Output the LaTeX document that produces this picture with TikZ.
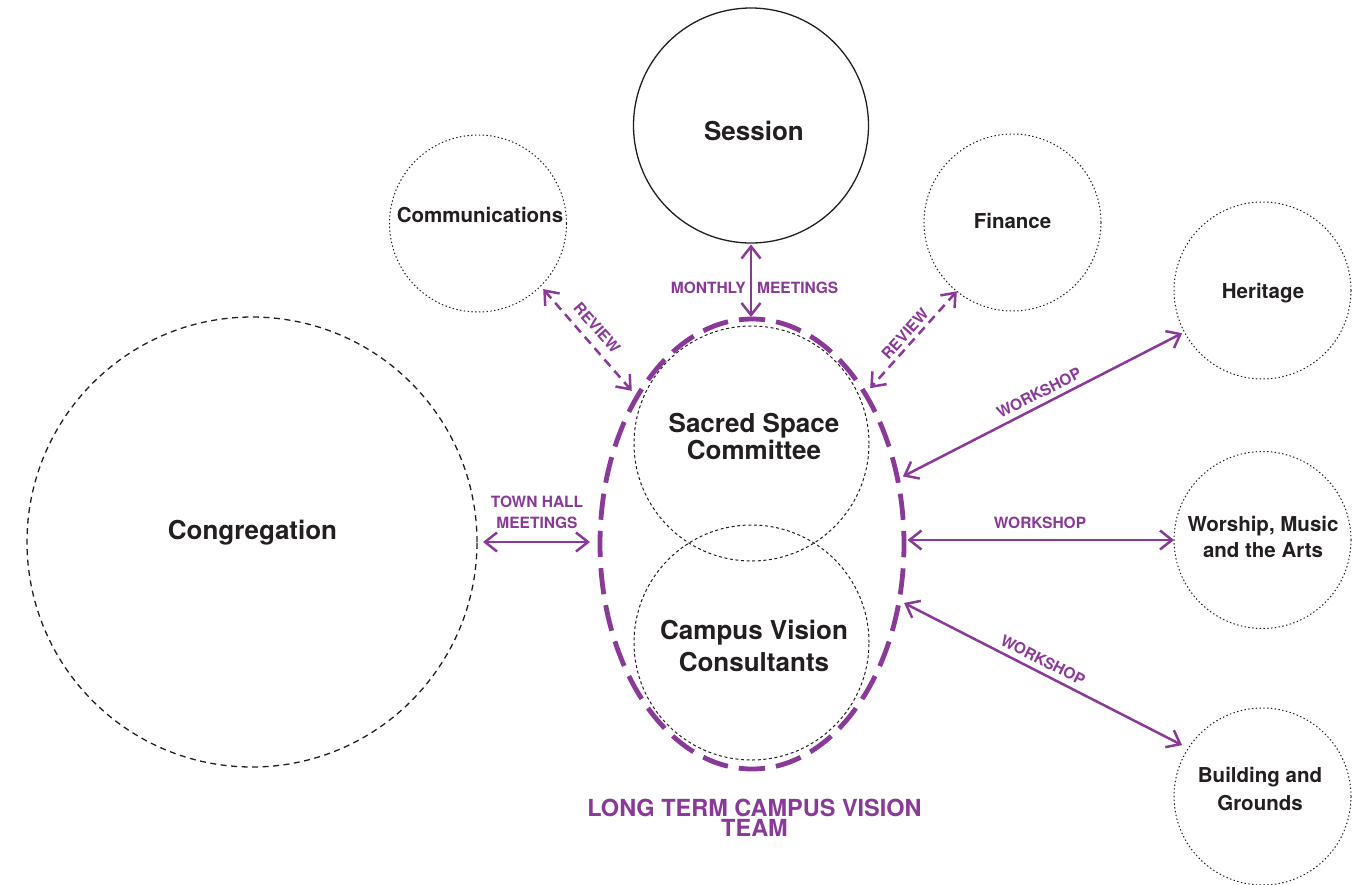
\documentclass[tikz,border=0pt]{standalone}
\usepackage{fontspec}
\setmainfont{TeX Gyre Heros}
\usetikzlibrary{arrows.meta,shapes.geometric}
\definecolor{vpurple}{RGB}{137,57,151}
\definecolor{ink}{RGB}{35,31,32}
\tikzset{
  solidc/.style={circle,draw=ink,line width=1.3pt,minimum size=235pt,inner sep=0pt,outer sep=0pt},
  dotc/.style={circle,draw=ink,line width=1pt,dash pattern=on 1.4pt off 2.4pt,minimum size=177pt,inner sep=0pt,outer sep=0pt},
  dashc/.style={circle,draw=ink,line width=1pt,dash pattern=on 3pt off 2.6pt,minimum size=235pt,inner sep=0pt,outer sep=0pt},
  congc/.style={circle,draw=ink,line width=1.3pt,dash pattern=on 6pt off 4.5pt,minimum size=450pt,inner sep=0pt,outer sep=0pt},
  teamell/.style={ellipse,draw=vpurple,line width=4.8pt,minimum width=304pt,minimum height=450pt,inner sep=0pt,outer sep=0pt,dash pattern=on 26.3pt off 11.06pt,dash phase=13.15pt},
  bigtxt/.style={font=\bfseries\fontsize{26}{27}\selectfont,text=ink,align=center,inner sep=0pt},
  midtxt/.style={font=\bfseries\fontsize{20.5}{26.5}\selectfont,text=ink,align=center,inner sep=0pt},
  lbl/.style={font=\bfseries\fontsize{15.5}{21}\selectfont,text=vpurple,align=center,inner sep=0pt},
  titletxt/.style={font=\bfseries\fontsize{23.5}{20.5}\selectfont,text=vpurple,align=center,inner sep=0pt},
  link/.style={draw=vpurple,line width=2.5pt,{Straight Barb[length=12pt,width=19pt]}-{Straight Barb[length=12pt,width=19pt]}},
  revlink/.style={link,dash pattern=on 9pt off 6pt},
}
\begin{document}
\begin{tikzpicture}[x=1pt,y=-1pt]
\path[fill=white,use as bounding box] (0,0) rectangle (1370,884);

% circles
\node[solidc] (session) at (751,125.5) {};
\node[congc] (cong) at (252,542) {};
\node[dotc] (comm) at (478,223.5) {};
\node[dotc] (fin) at (1012.5,222.5) {};
\node[dotc] (her) at (1262.5,290.5) {};
\node[dotc] (wor) at (1262.5,540) {};
\node[dotc] (bld) at (1262.5,796.5) {};
\node[dashc] (ssc) at (751.5,443.5) {};
\node[dashc] (cvc) at (751.5,642.5) {};
\node[teamell] (team) at (752,544) {};

% texts
\node[bigtxt,anchor=base] (sessiont) at (754,140) {Session};
\node[bigtxt,anchor=base] (congt) at (252.5,539.5) {Congregation};
\node[bigtxt] (ssct) at (754,437) {Sacred Space\\Committee};
\node[bigtxt,font=\bfseries\fontsize{26}{31.4}\selectfont] (cvct) at (754,646) {Campus Vision\\Consultants};
\node[midtxt,anchor=base] (commt) at (480,222.7) {Communications};
\node[midtxt,anchor=base] (fint) at (1012.5,228) {Finance};
\node[midtxt,anchor=base] (hert) at (1263,298.3) {Heritage};
\node[midtxt] (wort) at (1263,537) {Worship, Music\\and the Arts};
\node[midtxt,font=\bfseries\fontsize{20.5}{27.3}\selectfont] (bldt) at (1260,789) {Building and\\Grounds};
\node[titletxt] (teamt) at (754.5,818) {LONG TERM CAMPUS VISION\\TEAM};

% connectors
\draw[link,shorten <=1.5pt,shorten >=2pt] (session.south) -- (session.south |- team.north);
\draw[revlink,shorten <=4pt,shorten >=8pt] (comm.-45) -- (team.128);
\draw[revlink,shorten <=0pt,shorten >=7.5pt] (fin.231) -- (team.53);
\draw[link,shorten <=6pt,shorten >=2.5pt] (team.24.6) -- (her.208);
\draw[link,shorten <=3.5pt] (wor.west -| team.east) -- (wor.west);
\draw[link,shorten <=5.5pt,shorten >=7pt] (team.-21.2) -- (bld.147.4);
\draw[link,shorten <=6pt,shorten >=10pt] (cong.east) -- (cong.east -| team.west);

% connector labels
\node[lbl,anchor=base east] (mm1) at (746,293.3) {MONTHLY};
\node[lbl,anchor=base west] (mm2) at (757,293.3) {MEETINGS};
\node[lbl,rotate=-48.6] (rev1) at (597,328) {REVIEW};
\node[lbl,rotate=47.8] (rev2) at (905,334) {REVIEW};
\node[lbl] (thm) at (537,512) {TOWN HALL\\MEETINGS};
\node[lbl,rotate=27] (ws1) at (1039,393) {WORKSHOP};
\node[lbl,anchor=base] (ws2) at (1040,528.3) {WORKSHOP};
\node[lbl,rotate=-27] (ws3) at (1043,660) {WORKSHOP};
\end{tikzpicture}
\end{document}
